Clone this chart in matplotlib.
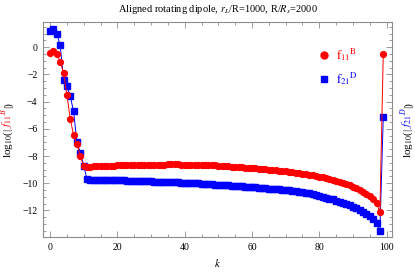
import numpy as np
import matplotlib
matplotlib.use("Agg")
import matplotlib.pyplot as plt
from matplotlib.ticker import MultipleLocator
from matplotlib.lines import Line2D

# ======================================================
# Data
# ======================================================

k = list(range(100))

f11B = [-0.45, -0.28, -0.50, -1.05, -1.88, -3.50, -5.25, -6.48, -7.12, -8.02,
        -8.72, -8.78, -8.77, -8.76, -8.75, -8.74, -8.73, -8.72, -8.71, -8.70,
        -8.69, -8.68, -8.67, -8.67, -8.66, -8.65, -8.65, -8.64, -8.64, -8.63,
        -8.63, -8.62, -8.62, -8.62, -8.62, -8.61, -8.61, -8.61, -8.61, -8.62,
        -8.62, -8.62, -8.63, -8.63, -8.64, -8.65, -8.66, -8.67, -8.68, -8.69,
        -8.70, -8.72, -8.73, -8.75, -8.77, -8.79, -8.81, -8.83, -8.85, -8.87,
        -8.89, -8.91, -8.93, -8.95, -8.98, -9.00, -9.03, -9.05, -9.08, -9.10,
        -9.13, -9.15, -9.18, -9.21, -9.25, -9.29, -9.33, -9.37, -9.41, -9.46,
        -9.51, -9.56, -9.62, -9.68, -9.74, -9.81, -9.89, -9.97, -10.06, -10.15,
        -10.25, -10.36, -10.48, -10.62, -10.78, -10.96, -11.18, -11.47, -12.10, -0.50]

f21D = [1.20, 1.35, 0.96, 0.18, -2.37, -2.88, -3.60, -4.72, -7.00, -7.76,
        -8.72, -9.72, -9.73, -9.74, -9.74, -9.75, -9.75, -9.76, -9.77, -9.77,
        -9.78, -9.79, -9.79, -9.80, -9.81, -9.81, -9.82, -9.83, -9.84, -9.85,
        -9.86, -9.87, -9.88, -9.89, -9.90, -9.91, -9.92, -9.93, -9.94, -9.95,
        -9.96, -9.97, -9.99, -10.00, -10.01, -10.03, -10.04, -10.06, -10.07, -10.09,
        -10.10, -10.12, -10.14, -10.15, -10.17, -10.19, -10.21, -10.23, -10.25, -10.27,
        -10.29, -10.31, -10.33, -10.35, -10.37, -10.39, -10.41, -10.43, -10.45, -10.47,
        -10.50, -10.52, -10.55, -10.58, -10.61, -10.65, -10.69, -10.73, -10.78, -10.83,
        -10.90, -10.98, -11.05, -11.12, -11.19, -11.27, -11.35, -11.44, -11.53, -11.63,
        -11.73, -11.84, -11.96, -12.10, -12.26, -12.44, -12.64, -12.94, -13.52, -5.15]

# ======================================================
# Style
# ======================================================

plt.rcParams["font.family"] = ["Liberation Serif", "DejaVu Serif"]
plt.rcParams["mathtext.fontset"] = "stix"

frame_gray = "#8c8c8c"

fig = plt.figure(figsize=(4.15, 2.73), dpi=100)
ax = fig.add_axes([0.1036, 0.1319, 0.841, 0.7875])

ax.plot(k, f11B, color="red", lw=0.7, marker="o", ms=4.2, mec="red",
        mfc="red", zorder=3)
ax.plot(k, f21D, color="blue", lw=0.7, marker="s", ms=3.8, mec="blue",
        mfc="blue", zorder=2)

ax.set_xlim(-2.1, 101.6)
ax.set_ylim(-13.95, 1.86)

ax.xaxis.set_major_locator(MultipleLocator(20))
ax.xaxis.set_minor_locator(MultipleLocator(5))
ax.yaxis.set_major_locator(MultipleLocator(2))
ax.yaxis.set_minor_locator(MultipleLocator(0.5))

ax.tick_params(which="both", direction="in", top=True, right=True,
               color=frame_gray, width=0.6, labelsize=7, pad=4)
ax.tick_params(which="major", length=4)
ax.tick_params(which="minor", length=2)
ax.set_yticks(range(-12, 1, 2))
ax.set_yticklabels([str(v).replace("-", "\u2212") for v in range(-12, 1, 2)])

for sp in ax.spines.values():
    sp.set_color(frame_gray)
    sp.set_linewidth(0.8)

ax.set_title(r"Aligned rotating dipole, $r_L$/R=1000, R/$R_s$=2000",
             fontsize=7.5, pad=7)
ax.set_xlabel(r"$k$", fontsize=8, labelpad=4)

# legend: markers only
handles = [
    Line2D([], [], ls="none", marker="o", ms=5, color="red"),
    Line2D([], [], ls="none", marker="s", ms=4.5, color="blue"),
]
labels = [r"$\mathrm{f}_{11}{}^{\mathrm{B}}$", r"$\mathrm{f}_{21}{}^{\mathrm{D}}$"]
leg = ax.legend(handles, labels, loc="upper right", bbox_to_anchor=(0.935, 0.94),
                frameon=False, fontsize=9, handlelength=0.8, handletextpad=0.6,
                labelspacing=0.55, numpoints=1)
for txt, c in zip(leg.get_texts(), ["red", "blue"]):
    txt.set_color(c)

# ======================================================
# Two-colour rotated axis labels
# ======================================================

fig.canvas.draw()
renderer = fig.canvas.get_renderer()


def vertical_label(x_px, yc_px, parts):
    texts = []
    for s, c in parts:
        t = fig.text(0, 0, s, color=c, rotation=90, rotation_mode="anchor",
                     ha="left", va="baseline", fontsize=8,
                     transform=None)
        texts.append(t)
    heights = [t.get_window_extent(renderer).height for t in texts]
    y = yc_px - sum(heights) / 2
    for t, h in zip(texts, heights):
        t.set_position((x_px, y))
        y += h


H = 273
vertical_label(11, H - 130, [(r"log$_{10}$(|", "black"),
                             (r"$f_{11}{}^{B}$", "red"),
                             (r"|)", "black")])
vertical_label(411, H - 130, [(r"log$_{10}$(|", "black"),
                              (r"$f_{21}{}^{D}$", "blue"),
                              (r"|)", "black")])

fig.savefig("out.png", dpi=100)
